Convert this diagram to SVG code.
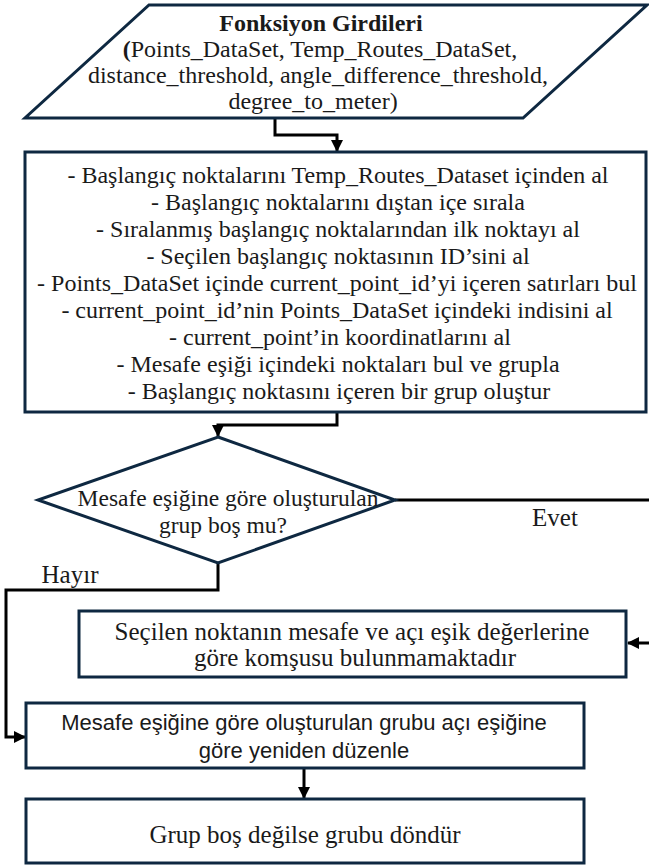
<svg xmlns="http://www.w3.org/2000/svg" width="649" height="867" viewBox="0 0 649 867">
<style>
.node{fill:#ffffff;stroke:#0e2841;stroke-width:3}
.t{font-family:"Liberation Serif","Times New Roman","DejaVu Serif",serif;font-size:24px;fill:#1a1a1a;text-anchor:middle}
.m{font-size:25px}
.d{font-size:23.5px}
.b{font-weight:bold}
.s{font-family:"Liberation Sans","Noto Sans",sans-serif;font-size:22px;fill:#1a1a1a;text-anchor:middle}
.c{fill:none;stroke:#000000;stroke-width:3}
</style>
<defs>
<marker id="ah" markerUnits="userSpaceOnUse" markerWidth="12" markerHeight="12" refX="11" refY="6" orient="auto">
<path d="M0,0 L12,6 L0,12 Z" fill="#000000"/>
</marker>
</defs>
<rect width="649" height="867" fill="#ffffff"/>
<g id="connectors">
<path class="c" d="M275,118 V135 H337 V151" marker-end="url(#ah)"/>
<path class="c" d="M337,412 V425 H218 V436" marker-end="url(#ah)"/>
<path class="c" d="M395,500 H662 V643 H628" marker-end="url(#ah)"/>
<path class="c" d="M218,563 V590 H6 V737 H25" marker-end="url(#ah)"/>
<path class="c" d="M304,768 V798" marker-end="url(#ah)"/>
</g>
<g id="inputs">
<polygon class="node" points="149,5 647,5 523,118 25,118"/>
<text class="t b" x="321" y="31">Fonksiyon Girdileri</text>
<text class="t" x="320" y="57"><tspan class="b">(</tspan>Points_DataSet, Temp_Routes_DataSet,</text>
<text class="t" x="318" y="83">distance_threshold, angle_difference_threshold,</text>
<text class="t" x="313" y="109">degree_to_meter)</text>
</g>
<g id="process">
<rect class="node" x="25" y="152" width="621" height="260"/>
<text class="t" x="338" y="183">- Başlangıç noktalarını Temp_Routes_Dataset içinden al</text>
<text class="t" x="338" y="210">- Başlangıç noktalarını dıştan içe sırala</text>
<text class="t" x="338" y="237">- Sıralanmış başlangıç noktalarından ilk noktayı al</text>
<text class="t" x="338" y="264">- Seçilen başlangıç noktasının ID’sini al</text>
<text class="t" x="337" y="291">- Points_DataSet içinde current_point_id’yi içeren satırları bul</text>
<text class="t" x="337" y="318">- current_point_id’nin Points_DataSet içindeki indisini al</text>
<text class="t" x="340" y="345">- current_point’in koordinatlarını al</text>
<text class="t" x="338" y="372">- Mesafe eşiği içindeki noktaları bul ve grupla</text>
<text class="t" x="339" y="399">- Başlangıç noktasını içeren bir grup oluştur</text>
</g>
<g id="decision">
<polygon class="node" points="218,437 395,500 218,563 38,500"/>
<text class="t d" x="228" y="506">Mesafe eşiğine göre oluşturulan</text>
<text class="t d" x="223" y="533">grup boş mu?</text>
</g>
<g id="labels">
<text class="t m" x="555" y="526">Evet</text>
<text class="t m" x="70" y="583">Hayır</text>
</g>
<g id="no-neighbour">
<rect class="node" x="79" y="611" width="547" height="66"/>
<text class="t m" x="352" y="640">Seçilen noktanın mesafe ve açı eşik değerlerine</text>
<text class="t m" x="355" y="666">göre komşusu bulunmamaktadır</text>
</g>
<g id="reorder">
<rect class="node" x="26" y="703" width="558" height="65"/>
<text class="s" x="304" y="730">Mesafe eşiğine göre oluşturulan grubu açı eşiğine</text>
<text class="s" x="304" y="758">göre yeniden düzenle</text>
</g>
<g id="return">
<rect class="node" x="26" y="799" width="558" height="64"/>
<text class="t m" x="305" y="843">Grup boş değilse grubu döndür</text>
</g>
</svg>
